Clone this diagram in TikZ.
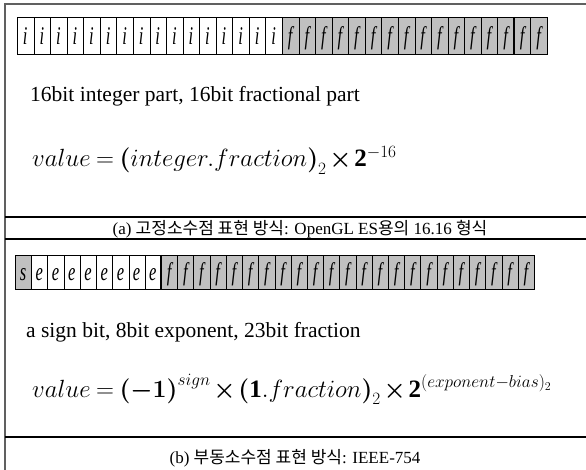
\documentclass[tikz,border=0pt]{standalone}
\usepackage{amsmath}
\usepackage{fontspec}
\setmainfont{Liberation Serif}
\newfontfamily\kr{Noto Sans CJK KR}
\usepackage{graphicx}
\definecolor{cellgray}{HTML}{C0C0C0}
\definecolor{framegray}{HTML}{606060}
\tikzset{
  cellbox/.style={draw=black, line width=0.7pt, inner sep=0pt, anchor=north west},
  bitglyph/.style={anchor=base, inner sep=0pt, font=\fontsize{15}{15}\selectfont\itshape},
  framel/.style={line width=1.2pt, draw=framegray},
  sepl/.style={line width=1.3pt, draw=black},
  bodytext/.style={anchor=base west, inner sep=0pt, font=\fontsize{21.5}{26}\selectfont},
  formula/.style={anchor=base west, inner sep=0pt, font=\fontsize{25}{30}\selectfont},
  capt/.style={inner sep=0pt, font=\fontsize{17}{20}\selectfont},
}
\begin{document}
\begin{tikzpicture}[x=1pt,y=-1pt]
\useasboundingbox (0,0) rectangle (586,470);
\fill[white] (0,0) rectangle (586,470);
% frame
\coordinate (tl) at (5,4);
\coordinate (tr) at (586,4);
\coordinate (bl) at (5,470);
\draw[framel] (tr) -- (tl) -- (bl);
\foreach \yy/\nm in {217/s1,239/s2,437/s3}{
  \coordinate (\nm l) at (5,\yy);
  \coordinate (\nm r) at (586,\yy);
  \draw[sepl] (\nm l) -- (\nm r);
}
% row a
\foreach \k in {0,...,31}{
  \pgfmathsetmacro\xa{17+\k*16.5625}
  \pgfmathsetmacro\xc{\xa+8.28}
  \ifnum\k<16 \def\fc{white}\def\lt{i}\else\def\fc{cellgray}\def\lt{f}\fi
  \node[cellbox, fill=\fc, minimum width=16.5625pt, minimum height=37pt] (a\k) at (\xa,17) {};
  \node[bitglyph] (ga\k) at (\xc,45) {\scalebox{1.1}[1.7]{\lt}};
}
\draw[line width=1.8pt] (a30.north west) -- (a30.south west);
% row b
\foreach \k in {0,...,31}{
  \pgfmathsetmacro\xa{15+\k*16.21875}
  \pgfmathsetmacro\xc{\xa+8.11}
  \ifnum\k=0 \def\fc{cellgray}\def\lt{s}\else
    \ifnum\k<9 \def\fc{white}\def\lt{e}\else\def\fc{cellgray}\def\lt{f}\fi\fi
  \node[cellbox, fill=\fc, minimum width=16.21875pt, minimum height=34pt] (b\k) at (\xa,255) {};
  \node[bitglyph] (gb\k) at (\xc,280) {\scalebox{1.1}[1.7]{\lt}};
}
\draw[line width=1.8pt] (b9.north west) -- (b9.south west);
% texts
\node[bodytext] (ta) at (30,102) {16bit integer part, 16bit fractional part};
\node[formula] (fa) at (32,167) {\medmuskip=2mu\thickmuskip=4mu$value = \boldsymbol{(}integer.fraction\boldsymbol{)}_{2}\boldsymbol{\times}\mathbf{2}^{-16}$};
\node[capt] (ca) at (300,229) {(a) {\kr 고정소수점 표현 방식}: OpenGL ES{\kr 용의} 16.16 {\kr 형식}};
\node[bodytext] (tb) at (26,337) {a sign bit, 8bit exponent, 23bit fraction};
\node[formula] (fb) at (32,397) {\medmuskip=2mu\thickmuskip=4mu$value = \boldsymbol{(-1)}^{sign}\boldsymbol{\times}\boldsymbol{(}\mathbf{1.}fraction\boldsymbol{)}_{2}\boldsymbol{\times}\mathbf{2}^{(exponent-bias)_{2}}$};
\node[capt] (cb) at (295,458) {(b) {\kr 부동소수점 표현 방식}: IEEE-754};
\end{tikzpicture}
\end{document}
